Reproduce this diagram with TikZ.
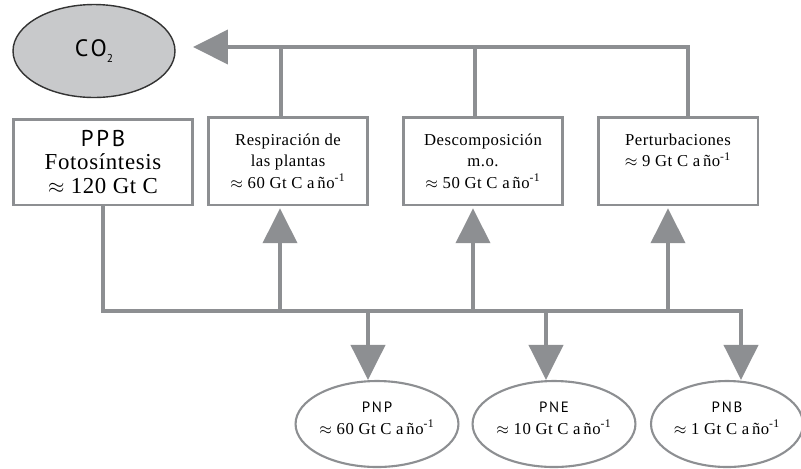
\documentclass[tikz,border=0pt]{standalone}
\usepackage{fontspec}
\setmainfont{Liberation Serif}[LetterSpace=3]
\newfontfamily\sinfont[LetterSpace=12]{PT Sans}
\usepackage{tikz}
\usetikzlibrary{arrows.meta, positioning, shapes.geometric}
\definecolor{gris}{RGB}{141,143,146}
\definecolor{grisco}{RGB}{200,201,203}
\tikzstyle{caja}=[draw=gris, line width=1.7pt, fill=white, align=center, inner sep=0pt, minimum width=3.2cm, minimum height=1.76cm, font=\fontsize{9.5}{12.2}\selectfont]
\tikzstyle{elip}=[ellipse, draw=gris, line width=1.2pt, fill=white, align=center, inner sep=0pt, minimum width=3.24cm, minimum height=1.72cm, font=\fontsize{9.5}{12.4}\selectfont]
\tikzstyle{linea}=[draw=gris, line width=2.27pt]
\tikzset{>={Triangle[length=0.7cm, width=0.68cm]}}
\newcommand{\anyo}{a\,ño\textsuperscript{-1}}

\begin{document}
\begin{tikzpicture}[x=0.02cm, y=-0.02cm]
\useasboundingbox (0,0) rectangle (801,468);
\node[ellipse, draw=black!80, fill=grisco, line width=0.8pt, minimum width=3.24cm, minimum height=1.86cm, font=\sinfont\fontsize{13.5}{15}\selectfont] (co2) at (94,51) {CO\raisebox{-3pt}{\fontsize{6.5}{6.5}\selectfont 2}};
\node[caja, minimum width=3.6cm, minimum height=1.72cm, font=\fontsize{13}{13.6}\selectfont] (ppb) at (103,162) {{\sinfont\fontsize{13}{13.6}\selectfont PPB}\\ Fotosíntesis\\ $\approx$ 120 Gt C};
\node[caja] (resp) at (288,161) {Respiración de\\ las plantas\\ $\approx$ 60 Gt C \anyo};
\node[caja] (desc) at (483,161) {Descomposición\\ m.o.\\ $\approx$ 50 Gt C \anyo};
\node[caja] (pert) at (678,161) {Perturbaciones\\ $\approx$ 9 Gt C \anyo\\ \mbox{}};
\node[elip] (pnp) at (377,424) {{\sinfont\fontsize{8.5}{12}\selectfont PNP}\\ $\approx$ 60 Gt C \anyo\\[-6pt] \mbox{}};
\node[elip] (pne) at (554,424) {{\sinfont\fontsize{8.5}{12}\selectfont PNE}\\ $\approx$ 10 Gt C \anyo\\[-6pt] \mbox{}};
\node[elip, minimum width=3.04cm] (pnb) at (727,424) {{\sinfont\fontsize{8.5}{12}\selectfont PNB}\\ $\approx$ 1 Gt C \anyo\\[-6pt] \mbox{}};

% hacia el CO2
\coordinate (p0) at (193,47);
\coordinate (c1) at (281,47);
\coordinate (c2) at (475,47);
\coordinate (c3) at (688,47);
\draw[linea] (c1 |- resp.north) -- (c1);
\draw[linea] (c2 |- desc.north) -- (c2);
\draw[linea, ->] (c3 |- pert.north) -- (c3) -- (p0);

% desde la PPB
\coordinate (b0) at (103,311);
\coordinate (b4) at (741,311);
\draw[linea, ->] (b0 |- ppb.south) -- (b0) -- (b4) -- (b4 |- pnb.north);
\foreach \x/\n in {280/resp, 473/desc, 668/pert}{
\coordinate (u\n) at (\x,311);
\draw[linea, ->, shorten >=1pt] (u\n) -- (u\n |- \n.south);
}
\foreach \x/\n in {368/pnp, 546/pne}{
\coordinate (d\n) at (\x,311);
\draw[linea, ->] (d\n) -- (d\n |- \n.north);
}
\end{tikzpicture}
\end{document}
